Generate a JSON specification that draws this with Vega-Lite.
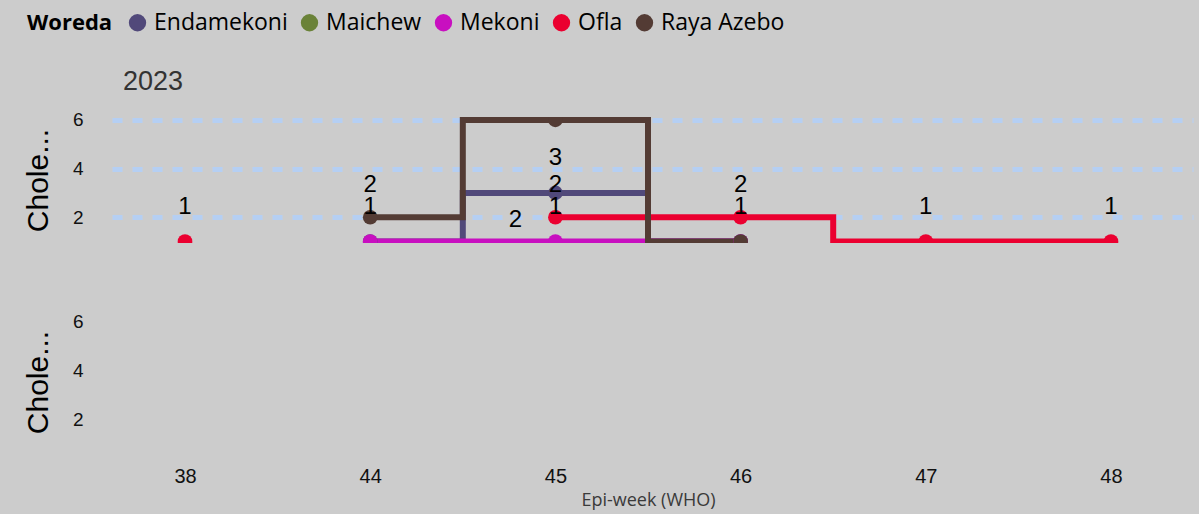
{
  "$schema": "https://vega.github.io/schema/vega-lite/v6.json",
  "background": "#cccccc",
  "padding": {"left": 23, "top": 11, "right": 6, "bottom": 6},
  "datasets": {
    "cases": [
      {"woreda": "Endamekoni", "week": "44", "cases": 1},
      {"woreda": "Endamekoni", "week": "45", "cases": 3},
      {"woreda": "Endamekoni", "week": "46", "cases": 1},
      {"woreda": "Mekoni", "week": "44", "cases": 1},
      {"woreda": "Mekoni", "week": "45", "cases": 1},
      {"woreda": "Mekoni", "week": "46", "cases": 1},
      {"woreda": "Ofla", "week": "38", "cases": 1},
      {"woreda": "Ofla", "week": "44", "cases": null},
      {"woreda": "Ofla", "week": "45", "cases": 2},
      {"woreda": "Ofla", "week": "46", "cases": 2},
      {"woreda": "Ofla", "week": "47", "cases": 1},
      {"woreda": "Ofla", "week": "48", "cases": 1},
      {"woreda": "Raya Azebo", "week": "44", "cases": 2},
      {"woreda": "Raya Azebo", "week": "45", "cases": 6},
      {"woreda": "Raya Azebo", "week": "46", "cases": 1}
    ],
    "labels": [
      {"week": "38", "label": "1", "labelAt": 2.12},
      {"week": "44", "label": "2", "labelAt": 3.05},
      {"week": "44", "label": "1", "labelAt": 2.12},
      {"week": "45", "label": "3", "labelAt": 4.15},
      {"week": "45", "label": "2", "labelAt": 3.05},
      {"week": "45", "label": "1", "labelAt": 2.12},
      {"week": "46", "label": "2", "labelAt": 3.05},
      {"week": "46", "label": "1", "labelAt": 2.12},
      {"week": "47", "label": "1", "labelAt": 2.12},
      {"week": "48", "label": "1", "labelAt": 2.12}
    ],
    "sideLabels": [
      {"week": "45", "label": "2", "labelAt": 1.6}
    ]
  },
  "config": {
    "view": {"stroke": null},
    "font": "Liberation Sans",
    "axis": {
      "domain": false,
      "ticks": false,
      "tickSize": 0,
      "labelFont": "Liberation Sans",
      "labelColor": "#111111",
      "titleFont": "Liberation Sans",
      "titleColor": "#000000",
      "titleFontWeight": "normal"
    }
  },
  "resolve": {"scale": {"color": "shared"}, "legend": {"color": "shared"}},
  "spacing": 69,
  "vconcat": [
    {
      "width": 1090,
      "height": 126,
      "title": {"text": "2023", "anchor": "start", "frame": "group", "dx": 20, "offset": 15, "fontSize": 27, "fontWeight": "normal", "color": "#333333", "font": "Liberation Sans"},
      "layer": [
        {
          "data": {"name": "cases"},
          "mark": {"type": "line", "interpolate": "step", "strokeWidth": 6, "clip": true, "invalid": "break-paths-filter-domains"},
          "encoding": {
            "x": {"field": "week", "type": "ordinal", "scale": {"type": "point", "domain": ["38", "44", "45", "46", "47", "48"], "padding": 0.4428}, "axis": null},
            "y": {"field": "cases", "type": "quantitative", "scale": {"domain": [0.94, 6.12], "nice": false, "zero": false},
              "axis": {"title": "Chole...", "titleFontSize": 30, "titlePadding": 19, "labelFontSize": 19, "labelPadding": 20, "values": [2, 4, 6],
                "grid": true, "gridColor": "#b5cff3", "gridWidth": 5, "gridDash": [10, 10], "gridDashOffset": 11}},
            "color": {"field": "woreda", "type": "nominal", "title": "Woreda",
              "scale": {"domain": ["Endamekoni", "Maichew", "Mekoni", "Ofla", "Raya Azebo"], "range": ["#51497a", "#6a8238", "#c80fc0", "#eb0030", "#533b34"]},
              "legend": {"orient": "none", "legendX": -76, "legendY": -106, "direction": "horizontal", "titleOrient": "left", "titleFont": "Open Sans", "titleFontSize": 22, "titleFontWeight": "bold", "titleColor": "#000000", "titlePadding": 13,
                "labelFont": "Open Sans", "labelFontSize": 23, "labelColor": "#000000", "labelOffset": 5, "columnPadding": 10,
                "symbolType": "circle", "symbolSize": 300, "symbolStrokeWidth": 0, "symbolOpacity": 1}}
          }
        },
        {
          "data": {"name": "cases"},
          "mark": {"type": "circle", "size": 215, "opacity": 1, "clip": true},
          "encoding": {
            "x": {"field": "week", "type": "ordinal"},
            "y": {"field": "cases", "type": "quantitative"},
            "color": {"field": "woreda", "type": "nominal"}
          }
        },
        {
          "data": {"name": "labels"},
          "mark": {"type": "text", "fontSize": 24, "baseline": "alphabetic", "color": "#000000", "font": "Liberation Sans"},
          "encoding": {
            "x": {"field": "week", "type": "ordinal"},
            "y": {"field": "labelAt", "type": "quantitative"},
            "text": {"field": "label"}
          }
        },
        {
          "data": {"name": "sideLabels"},
          "mark": {"type": "text", "fontSize": 24, "baseline": "alphabetic", "color": "#000000", "font": "Liberation Sans", "dx": -40},
          "encoding": {
            "x": {"field": "week", "type": "ordinal"},
            "y": {"field": "labelAt", "type": "quantitative"},
            "text": {"field": "label"}
          }
        }
      ]
    },
    {
      "width": 1090,
      "height": 126,
      "data": {"name": "cases"},
      "transform": [{"filter": "false"}],
      "mark": {"type": "point", "opacity": 0},
      "encoding": {
        "x": {"field": "week", "type": "ordinal", "scale": {"type": "point", "domain": ["38", "44", "45", "46", "47", "48"], "padding": 0.4428},
          "axis": {"title": "Epi-week (WHO)", "titleFont": "Open Sans", "titleFontSize": 18, "titleColor": "#3a3a3a", "titlePadding": 5, "labelFontSize": 20, "labelPadding": 21, "labelAngle": 0, "grid": false}},
        "y": {"field": "cases", "type": "quantitative", "scale": {"domain": [0.94, 6.12], "nice": false, "zero": false},
          "axis": {"title": "Chole...", "titleFontSize": 30, "titlePadding": 19, "labelFontSize": 19, "labelPadding": 20, "values": [2, 4, 6], "grid": false}}
      }
    }
  ]
}
